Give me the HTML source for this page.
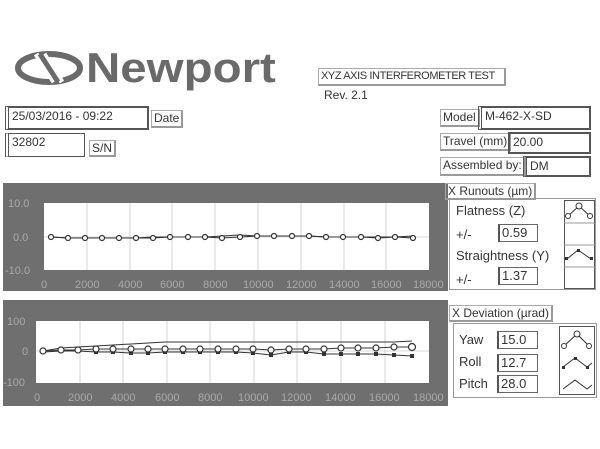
<!DOCTYPE html>
<html><head><style>
body{margin:0;width:600px;height:449px;background:#fff;position:relative;overflow:hidden;font-family:"Liberation Sans",sans-serif;color:#333;font-size:12px}
.a{position:absolute;box-sizing:border-box}
.lbl{border:1px solid #aaa;border-right:2px solid #999;border-bottom:2px solid #999;padding:0 2px;line-height:15px;white-space:nowrap}
.box{border:2px solid #555;border-left:4px double #555;padding-left:3px;line-height:17px;white-space:nowrap}
.vb{border:1px solid #666;border-left:2px solid #555;padding-left:2px;line-height:15px;font-size:13px}
</style></head><body>
<svg class="a" style="left:14px;top:50px" width="70" height="36" viewBox="0 0 70 36">
<ellipse cx="35" cy="18" rx="31" ry="14" fill="none" stroke="#6a6a6a" stroke-width="6"/>
<path d="M22 4 L40 32 M30 4 L48 32" stroke="#fff" stroke-width="5"/>
<path d="M26 4 L44 32" stroke="#6a6a6a" stroke-width="5"/>
</svg>
<div class="a" style="left:86px;top:44px;font-family:'Liberation Sans',sans-serif;font-weight:bold;font-size:42px;color:#6a6a6a;transform:scaleX(1.13);transform-origin:0 0">Newport</div>
<div class="a lbl" style="left:318px;top:68px;width:188px;height:18px;font-size:11px;letter-spacing:-0.4px">XYZ AXIS INTERFEROMETER TEST</div>
<div class="a" style="left:324px;top:88px;font-size:12px">Rev. 2.1</div>
<div class="a box" style="left:5px;top:106px;width:144px;height:24px">25/03/2016 - 09:22</div>
<div class="a lbl" style="left:151px;top:110px;height:18px">Date</div>
<div class="a box" style="left:5px;top:133px;width:80px;height:24px;border-width:1px;border-left:4px double #555">32802</div>
<div class="a lbl" style="left:89px;top:140px;height:17px">S/N</div>
<div class="a lbl" style="left:440px;top:109px;height:18px">Model</div>
<div class="a box" style="left:478px;top:106px;width:113px;height:24px">M-462-X-SD</div>
<div class="a lbl" style="left:440px;top:133px;height:18px">Travel (mm)</div>
<div class="a box" style="left:508px;top:132px;width:83px;height:22px;border-left-width:2px">20.00</div>
<div class="a lbl" style="left:440px;top:157px;height:19px">Assembled by:</div>
<div class="a box" style="left:523px;top:156px;width:68px;height:21px">DM</div>

<svg class="a" style="left:0;top:0" width="600" height="449">
<g font-family="Liberation Sans,sans-serif" font-size="11" fill="#555">
<rect x="3" y="183" width="445" height="108" fill="#6f6f6f"/>
<rect x="44" y="203" width="385" height="67" fill="#fff"/>
<g stroke="#ccc" stroke-width="0.8">
<line x1="87" y1="203" x2="87" y2="270"/><line x1="130" y1="203" x2="130" y2="270"/><line x1="172" y1="203" x2="172" y2="270"/><line x1="215" y1="203" x2="215" y2="270"/><line x1="258" y1="203" x2="258" y2="270"/><line x1="301" y1="203" x2="301" y2="270"/><line x1="344" y1="203" x2="344" y2="270"/><line x1="386" y1="203" x2="386" y2="270"/>
<line x1="44" y1="237" x2="429" y2="237"/></g>
<g fill="#aaa" font-size="11">
<text x="8" y="207">10.0</text><text x="13" y="241">0.0</text><text x="5" y="274">-10.0</text>
<text x="41" y="288">0</text><text x="75" y="288">2000</text><text x="118" y="288">4000</text><text x="160" y="288">6000</text><text x="203" y="288">8000</text><text x="243" y="288">10000</text><text x="286" y="288">12000</text><text x="329" y="288">14000</text><text x="371" y="288">16000</text><text x="413" y="288">18000</text></g>
<polyline fill="none" stroke="#333" stroke-width="1" points="51,237 68,238 85,238 102,238 119,238 136,238 153,237 170,237 188,237 205,237 222,236 240,235 257,236 274,236 292,236 309,236 326,237 343,237 361,237 378,237 395,237 413,236"/>
<polyline fill="none" stroke="#333" stroke-width="1" points="51,237 68,238 85,238 102,238 119,238 136,238 153,238 170,237 188,237 205,237 222,238 240,237 257,236 274,236 292,236 309,236 326,237 343,237 361,237 378,238 395,237 413,238"/>
<g fill="#fff" stroke="#333" stroke-width="1.2">
<circle cx="51" cy="237" r="2.5"/><circle cx="68" cy="238" r="2.5"/><circle cx="85" cy="238" r="2.5"/><circle cx="102" cy="238" r="2.5"/><circle cx="119" cy="238" r="2.5"/><circle cx="136" cy="238" r="2.5"/><circle cx="153" cy="238" r="2.5"/><circle cx="170" cy="237" r="2.5"/><circle cx="188" cy="237" r="2.5"/><circle cx="205" cy="237" r="2.5"/><circle cx="222" cy="238" r="2.5"/><circle cx="240" cy="237" r="2.5"/><circle cx="257" cy="236" r="2.5"/><circle cx="274" cy="236" r="2.5"/><circle cx="292" cy="236" r="2.5"/><circle cx="309" cy="236" r="2.5"/><circle cx="326" cy="237" r="2.5"/><circle cx="343" cy="237" r="2.5"/><circle cx="361" cy="237" r="2.5"/><circle cx="378" cy="238" r="2.5"/><circle cx="395" cy="237" r="2.5"/><circle cx="413" cy="238" r="2.5"/></g>

<rect x="3" y="300" width="445" height="106" fill="#6f6f6f"/>
<rect x="36" y="321" width="393" height="62" fill="#fff"/>
<g stroke="#ccc" stroke-width="0.8">
<line x1="80" y1="321" x2="80" y2="383"/><line x1="123" y1="321" x2="123" y2="383"/><line x1="167" y1="321" x2="167" y2="383"/><line x1="210" y1="321" x2="210" y2="383"/><line x1="254" y1="321" x2="254" y2="383"/><line x1="297" y1="321" x2="297" y2="383"/><line x1="341" y1="321" x2="341" y2="383"/><line x1="385" y1="321" x2="385" y2="383"/>
<line x1="36" y1="351" x2="429" y2="351"/></g>
<g fill="#aaa" font-size="11">
<text x="7" y="325">100</text><text x="22" y="355">0</text><text x="3" y="386">-100</text>
<text x="34" y="401">0</text><text x="68" y="401">2000</text><text x="111" y="401">4000</text><text x="155" y="401">6000</text><text x="198" y="401">8000</text><text x="238" y="401">10000</text><text x="281" y="401">12000</text><text x="325" y="401">14000</text><text x="369" y="401">16000</text><text x="413" y="401">18000</text></g>
<polyline fill="none" stroke="#333" stroke-width="1" points="43,351 61,348 78,347 96,346 113,345 131,344 148,343 165,342 183,342 200,342 218,342 236,342 253,342 271,342 289,342 306,342 324,342 341,342 358,342 376,342 394,342 412,341"/>
<polyline fill="none" stroke="#333" stroke-width="1" points="43,351 61,350 78,350 96,349 113,349 131,349 148,349 165,349 183,349 200,349 218,349 236,349 253,349 271,350 289,349 306,349 324,349 341,348 358,348 376,348 394,347 412,347"/>
<polyline fill="none" stroke="#333" stroke-width="1" points="43,352 61,351 78,351 96,352 113,352 131,353 148,353 165,352 183,352 200,352 218,352 236,352 253,353 271,355 289,352 306,352 324,354 341,354 358,354 376,354 394,355 412,356"/>
<g fill="#333"><rect x="41" y="350" width="4" height="4"/><rect x="59" y="349" width="4" height="4"/><rect x="76" y="349" width="4" height="4"/><rect x="94" y="350" width="4" height="4"/><rect x="111" y="350" width="4" height="4"/><rect x="129" y="351" width="4" height="4"/><rect x="146" y="351" width="4" height="4"/><rect x="163" y="350" width="4" height="4"/><rect x="181" y="350" width="4" height="4"/><rect x="198" y="350" width="4" height="4"/><rect x="216" y="350" width="4" height="4"/><rect x="234" y="350" width="4" height="4"/><rect x="251" y="351" width="4" height="4"/><rect x="269" y="353" width="4" height="4"/><rect x="287" y="350" width="4" height="4"/><rect x="304" y="350" width="4" height="4"/><rect x="322" y="352" width="4" height="4"/><rect x="339" y="352" width="4" height="4"/><rect x="356" y="352" width="4" height="4"/><rect x="374" y="352" width="4" height="4"/><rect x="392" y="353" width="4" height="4"/><rect x="410" y="354" width="4" height="4"/></g>
<g fill="#fff" stroke="#333" stroke-width="1.2">
<circle cx="43" cy="351" r="3"/><circle cx="61" cy="350" r="3"/><circle cx="78" cy="350" r="3"/><circle cx="96" cy="349" r="3"/><circle cx="113" cy="349" r="3"/><circle cx="131" cy="349" r="3"/><circle cx="148" cy="349" r="3"/><circle cx="165" cy="349" r="3"/><circle cx="183" cy="349" r="3"/><circle cx="200" cy="349" r="3"/><circle cx="218" cy="349" r="3"/><circle cx="236" cy="349" r="3"/><circle cx="253" cy="349" r="3"/><circle cx="271" cy="350" r="3"/><circle cx="289" cy="349" r="3"/><circle cx="306" cy="349" r="3"/><circle cx="324" cy="349" r="3"/><circle cx="341" cy="348" r="3"/><circle cx="358" cy="348" r="3"/><circle cx="376" cy="348" r="3"/><circle cx="394" cy="347" r="3"/><circle cx="412" cy="347" r="3.5"/></g>

<rect x="449.5" y="198.5" width="146" height="91" fill="none" stroke="#999"/>
<rect x="564.5" y="200.5" width="30" height="88" fill="none" stroke="#555"/>
<line x1="564" y1="223" x2="595" y2="223" stroke="#999"/><line x1="564" y1="245" x2="595" y2="245" stroke="#999"/><line x1="564" y1="267" x2="595" y2="267" stroke="#999"/>
<polyline points="568,216 579,206 590,216" fill="none" stroke="#333"/><circle cx="579" cy="206" r="3" fill="#fff" stroke="#333"/><circle cx="568" cy="216" r="2.5" fill="#fff" stroke="#333"/><circle cx="590" cy="216" r="2.5" fill="#fff" stroke="#333"/>
<polyline points="567,259 578,250 591,259" fill="none" stroke="#333"/><rect x="565" y="257" width="3" height="3" fill="#333"/><rect x="577" y="249" width="3" height="3" fill="#333"/><rect x="590" y="257" width="3" height="3" fill="#333"/>
<rect x="453.5" y="323.5" width="143" height="74" fill="none" stroke="#999"/>
<rect x="559.5" y="326.5" width="35" height="68" fill="none" stroke="#555"/>
<polyline points="564,346 577,334 589,346" fill="none" stroke="#333"/><circle cx="577" cy="334" r="3" fill="#fff" stroke="#333"/><circle cx="564" cy="346" r="2.5" fill="#fff" stroke="#333"/><circle cx="589" cy="346" r="2.5" fill="#fff" stroke="#333"/>
<polyline points="563,367 575,358 587,367 592,363" fill="none" stroke="#333"/><rect x="562" y="366" width="3" height="3" fill="#333"/><rect x="574" y="357" width="3" height="3" fill="#333"/><rect x="586" y="366" width="3" height="3" fill="#333"/>
<polyline points="563,389 575,380 587,389 592,385" fill="none" stroke="#333"/>
</g></svg>
<div class="a lbl" style="left:445px;top:183px;height:17px;font-size:12px">X Runouts (µm)</div>
<div class="a" style="left:456px;top:203px;font-size:13px">Flatness (Z)</div>
<div class="a" style="left:456px;top:227px;font-size:13px">+/-</div>
<div class="a vb" style="left:498px;top:224px;width:40px;height:18px">0.59</div>
<div class="a" style="left:456px;top:248px;font-size:13px">Straightness (Y)</div>
<div class="a" style="left:456px;top:272px;font-size:13px">+/-</div>
<div class="a vb" style="left:498px;top:267px;width:40px;height:18px">1.37</div>
<div class="a lbl" style="left:449px;top:305px;height:17px;font-size:12px">X Deviation (µrad)</div>
<div class="a" style="left:459px;top:332px;font-size:13px">Yaw</div>
<div class="a vb" style="left:497px;top:331px;width:41px;height:18px">15.0</div>
<div class="a" style="left:459px;top:354px;font-size:13px">Roll</div>
<div class="a vb" style="left:497px;top:354px;width:41px;height:18px">12.7</div>
<div class="a" style="left:459px;top:376px;font-size:13px">Pitch</div>
<div class="a vb" style="left:497px;top:375px;width:41px;height:18px">28.0</div>
</body></html>
